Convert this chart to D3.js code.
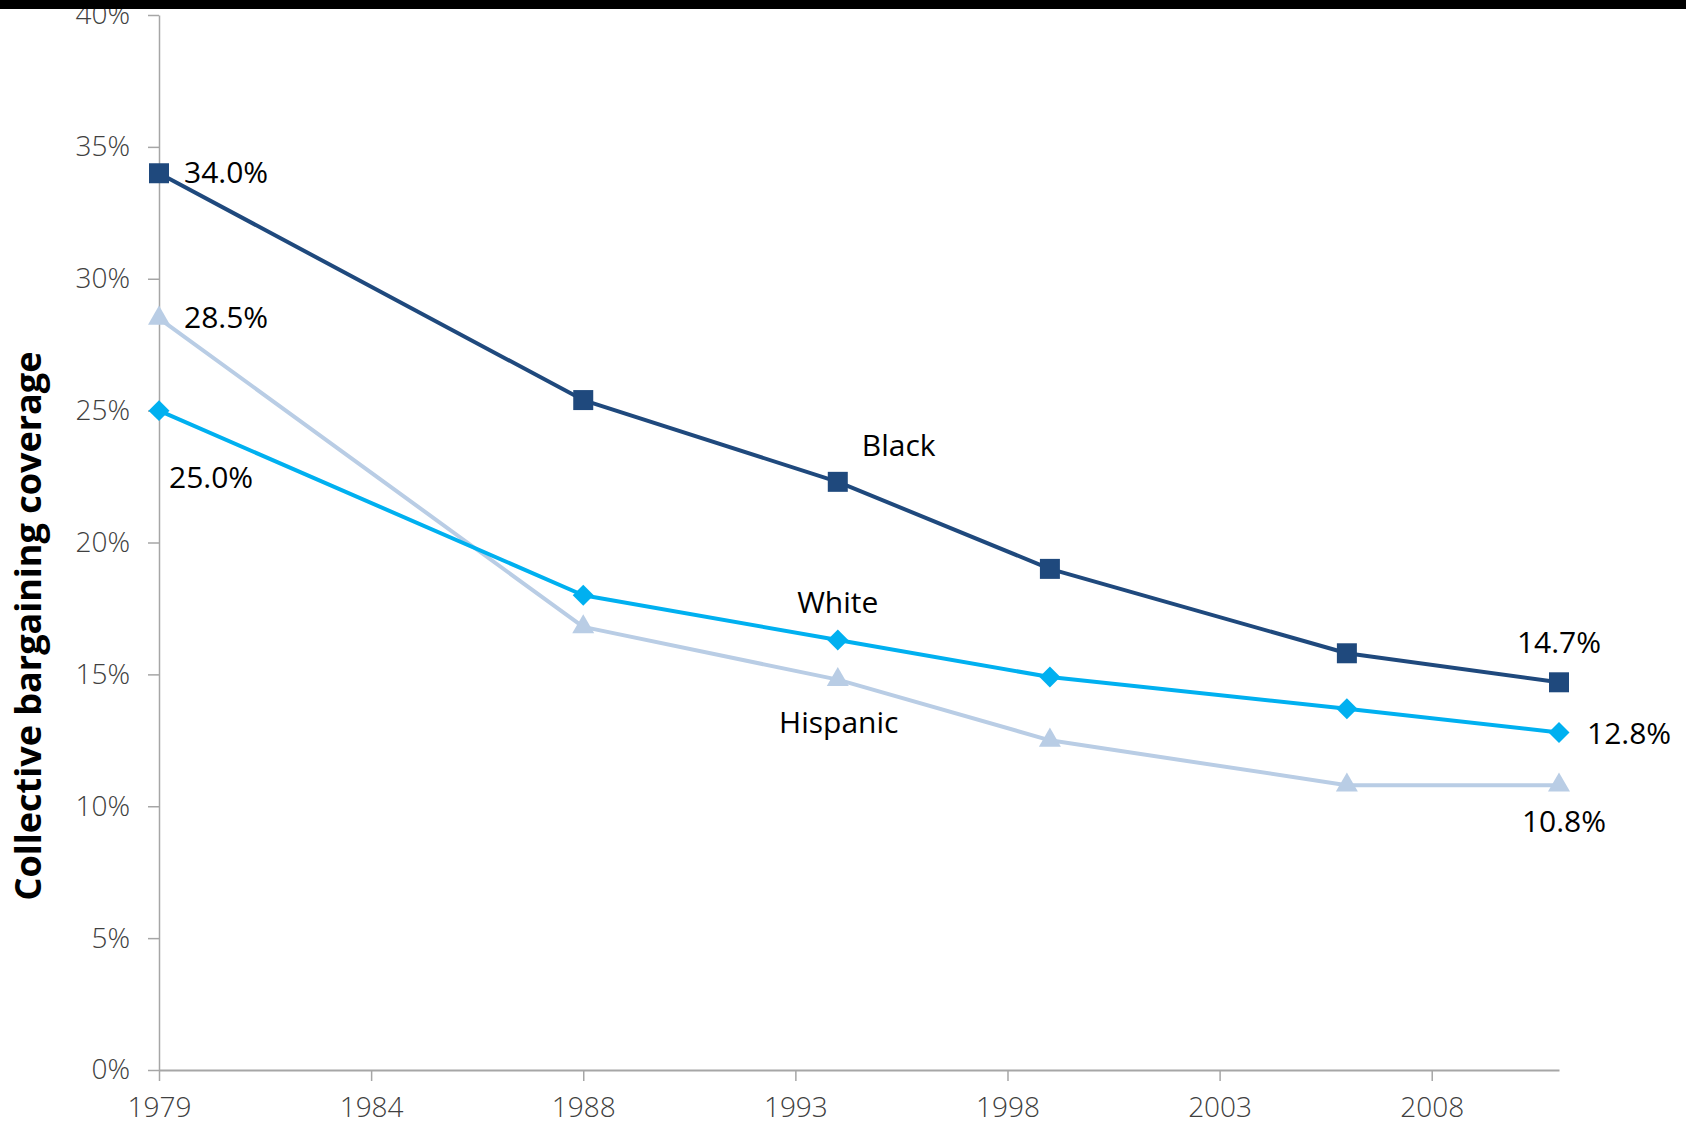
<!DOCTYPE html>
<html>
<head>
<meta charset="utf-8">
<script src="https://cdn.jsdelivr.net/npm/d3@7"></script>
<style>
  html, body { margin: 0; padding: 0; background: #fff; }
  svg { display: block; }
  text { font-family: "Open Sans", "Noto Sans", sans-serif; }
</style>
</head>
<body>
<svg id="chart" width="1686" height="1125"></svg>
<script>
// ---- data ----
const years = [1979, 1989, 1995, 2000, 2007, 2012];
const blackValues = [34.0, 25.4, 22.3, 19.0, 15.8, 14.7];
const whiteValues = [25.0, 18.0, 16.3, 14.9, 13.7, 12.8];
const hispanicValues = [28.5, 16.8, 14.8, 12.5, 10.8, 10.8];
const seriesNames = ["Black", "White", "Hispanic"];
const xTickValues = [1979, 1984, 1989, 1994, 1999, 2004, 2009];
const xTickLabels = ["1979", "1984", "1988", "1993", "1998", "2003", "2008"];
const yTickValues = [0, 5, 10, 15, 20, 25, 30, 35, 40];
const yAxisTitle = "Collective bargaining coverage";

// ---- setup ----
const svg = d3.select("#chart");
const W = 1686, H = 1125;
svg.append("rect").attr("width", W).attr("height", H).attr("fill", "#fff");

const x = d3.scaleLinear().domain([1979, 2012]).range([159, 1559]);
const y = d3.scaleLinear().domain([0, 40]).range([1070, 15]);

const axisColor = "#a6a6a6";

// y axis
const yAxis = svg.append("g").attr("transform", `translate(${x(1979)},0)`)
  .call(d3.axisLeft(y).tickValues(yTickValues).tickSize(11).tickSizeOuter(0).tickPadding(18)
    .tickFormat(d => d + "%"));
yAxis.select(".domain").attr("stroke", axisColor).attr("stroke-width", 1.5);
yAxis.selectAll(".tick line").attr("stroke", axisColor).attr("stroke-width", 1.5);
yAxis.selectAll(".tick text").attr("fill", "#404040").attr("font-size", 28).attr("font-weight", 300)
  .attr("font-family", "'Open Sans', sans-serif");

// x axis
const xAxis = svg.append("g").attr("transform", `translate(0,${y(0)})`)
  .call(d3.axisBottom(x).tickValues(xTickValues).tickSize(11).tickSizeOuter(0)
    .tickFormat((d, i) => xTickLabels[i]));
xAxis.select(".domain").attr("stroke", axisColor).attr("stroke-width", 2);
xAxis.selectAll(".tick line").attr("stroke", axisColor).attr("stroke-width", 1.5);
xAxis.selectAll(".tick text").attr("fill", "#404040").attr("font-size", 28).attr("font-weight", 300)
  .attr("y", 47).attr("dy", 0).attr("font-family", "'Open Sans', sans-serif");

// y axis title
svg.append("text")
  .attr("transform", `translate(41,626) rotate(-90)`)
  .attr("text-anchor", "middle")
  .attr("font-size", 36).attr("font-weight", 700).attr("fill", "#000")
  .text(yAxisTitle);

// ---- series ----
const series = [
  { name: seriesNames[0], values: blackValues, color: "#1f497d", marker: d3.symbolSquare, msize: 400, rot: 0 },
  { name: seriesNames[1], values: whiteValues, color: "#00b0f0", marker: d3.symbolSquare, msize: 220, rot: 45 },
  { name: seriesNames[2], values: hispanicValues, color: "#b9cde5", marker: d3.symbolTriangle, msize: 210, rot: 0 }
];

const line = d3.line().x((d, i) => x(years[i])).y(d => y(d));

series.slice().reverse().forEach(s => {
  svg.append("path").datum(s.values)
    .attr("d", line).attr("fill", "none")
    .attr("stroke", s.color).attr("stroke-width", 4).attr("stroke-linejoin", "round");
});
series.slice().reverse().forEach(s => {
  svg.selectAll(null).data(s.values).enter().append("path")
    .attr("d", d3.symbol().type(s.marker).size(s.msize))
    .attr("transform", (d, i) => `translate(${x(years[i])},${y(d)}) rotate(${s.rot})`)
    .attr("fill", s.color);
});

// ---- data labels ----
const fmt = v => v.toFixed(1) + "%";
const dataLabels = [
  { s: 0, i: 0, dx: 25, dy: 10, anchor: "start" },
  { s: 2, i: 0, dx: 25, dy: 10, anchor: "start" },
  { s: 1, i: 0, dx: 10, dy: 77, anchor: "start" },
  { s: 0, i: 5, dx: 0, dy: -29, anchor: "middle" },
  { s: 1, i: 5, dx: 28, dy: 12, anchor: "start" },
  { s: 2, i: 5, dx: 5, dy: 47, anchor: "middle" }
];
dataLabels.forEach(l => {
  const v = series[l.s].values[l.i];
  svg.append("text")
    .attr("x", x(years[l.i]) + l.dx).attr("y", y(v) + l.dy)
    .attr("text-anchor", l.anchor).attr("font-size", 30).attr("fill", "#000")
    .text(fmt(v));
});

// series name labels
const nameLabels = [
  { s: 0, i: 2, dx: 24, dy: -26, anchor: "start" },
  { s: 1, i: 2, dx: 0, dy: -27, anchor: "middle" },
  { s: 2, i: 2, dx: 1, dy: 53, anchor: "middle" }
];
nameLabels.forEach(l => {
  const v = series[l.s].values[l.i];
  svg.append("text")
    .attr("x", x(years[l.i]) + l.dx).attr("y", y(v) + l.dy)
    .attr("text-anchor", l.anchor).attr("font-size", 30).attr("fill", "#000")
    .text(series[l.s].name);
});

// top black band
svg.append("rect").attr("x", 0).attr("y", 0).attr("width", W).attr("height", 9).attr("fill", "#000");
</script>
</body>
</html>
